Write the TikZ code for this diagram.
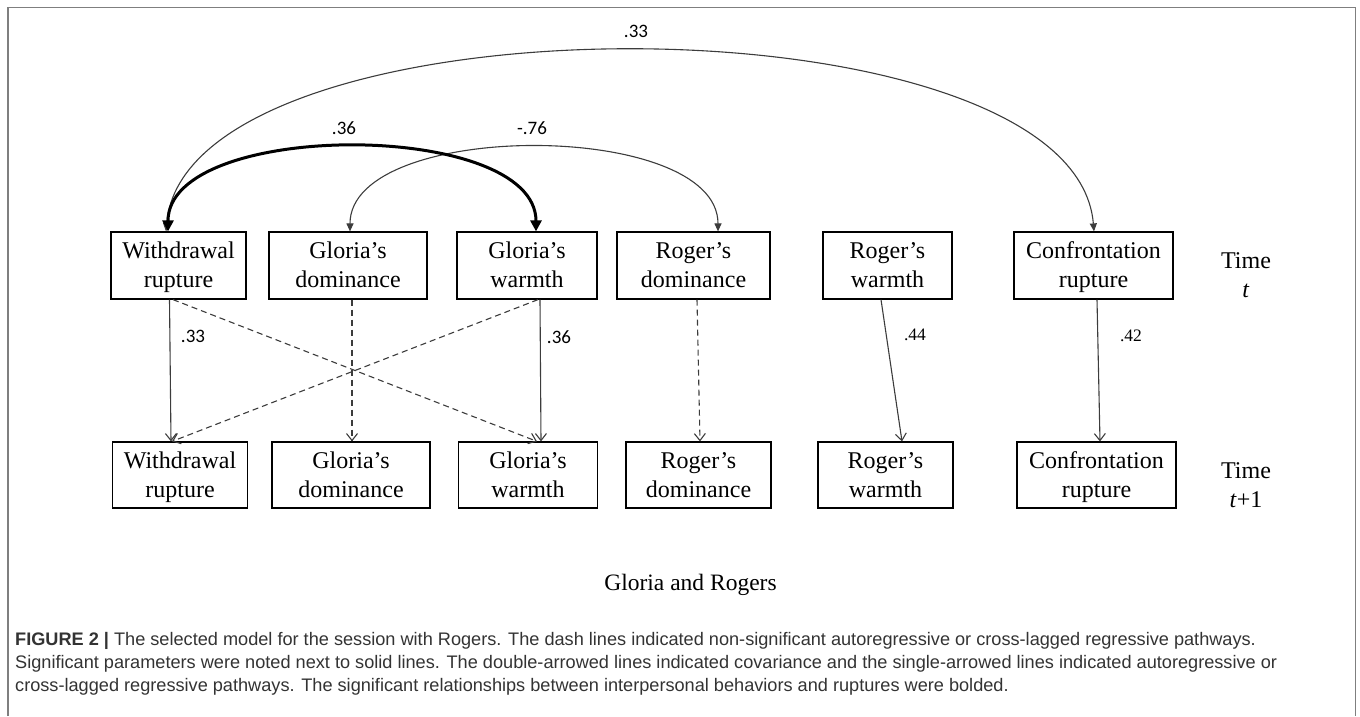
\documentclass[tikz,border=0pt]{standalone}
\usepackage{graphicx}
\usepackage{fontspec}
\setmainfont{Liberation Serif}
\newfontfamily\capfont{Liberation Sans}
\newfontfamily\lblfont{Carlito}
\usetikzlibrary{arrows.meta}
\definecolor{framegray}{HTML}{7F7F7F}
\definecolor{linegray}{HTML}{3C3C3C}
\definecolor{captext}{HTML}{333333}
\newlength\capwd
\newcommand\bxstrut{\rule[-6pt]{0pt}{27pt}}
\newcommand\twoln[2]{\bxstrut #1\\\bxstrut #2}
\begin{document}
\settowidth\capwd{\capfont\fontsize{16.5}{20}\selectfont Significant parameters were noted next to solid lines. The double-arrowed lines indicated covariance and the single-arrowed lines indicated autoregressive or}%
\pgfmathsetmacro\capsc{1262/\capwd}%
\begin{tikzpicture}[x=1pt,y=-1pt,
  box/.style={draw=black, line width=1.2pt, minimum height=67pt, inner sep=0pt, align=center, font=\fontsize{24}{29}\selectfont},
  reg/.style={draw=linegray, line width=1.1pt, -{Straight Barb[length=7pt,width=11pt]}},
  nsreg/.style={reg, dash pattern=on 6pt off 4pt},
  cov/.style={draw=linegray, line width=1.1pt, {Triangle[length=8pt,width=7pt]}-{Triangle[length=8pt,width=7pt]}},
  covbold/.style={draw=black, line width=3pt, {Triangle[length=11pt,width=11pt]}-{Triangle[length=11pt,width=11pt]}},
  sanslbl/.style={font=\lblfont\fontsize{19}{21}\selectfont, inner sep=0pt},
  seriflbl/.style={font=\fontsize{17.5}{20}\selectfont, inner sep=0pt},
  timelbl/.style={anchor=base, inner sep=0pt, font=\fontsize{24}{29}\selectfont},
  capline/.style={anchor=base west, inner sep=0pt, text=captext, font=\capfont\fontsize{16.5}{20}\selectfont}
]
\useasboundingbox (0,0) rectangle (1360,716);

% frame
\draw[framegray, line width=1.8pt] (8,716) -- (8,7.5) -- (1355.5,7.5) -- (1355.5,716);

% top row (time t)
\node[box, minimum width=135pt] (W1) at (178.5,265.5) {\twoln{Withdrawal}{rupture}};
\node[box, minimum width=158pt] (GD1) at (348,265.5) {\twoln{Gloria’s}{dominance}};
\node[box, minimum width=140pt] (GW1) at (527,265.5) {\twoln{Gloria’s}{warmth}};
\node[box, minimum width=153pt] (RD1) at (693.5,265.5) {\twoln{Roger’s}{dominance}};
\node[box, minimum width=129pt] (RW1) at (887.5,265.5) {\twoln{Roger’s}{warmth}};
\node[box, minimum width=159pt] (C1) at (1093.5,265.5) {\twoln{Confrontation}{rupture}};

% bottom row (time t+1)
\node[box, minimum width=135pt, minimum height=66pt] (W2) at (180,475) {\twoln{Withdrawal}{rupture}};
\node[box, minimum width=158pt, minimum height=66pt] (GD2) at (351,475) {\twoln{Gloria’s}{dominance}};
\node[box, minimum width=139pt, minimum height=66pt] (GW2) at (528,475) {\twoln{Gloria’s}{warmth}};
\node[box, minimum width=145pt, minimum height=66pt] (RD2) at (698.5,475) {\twoln{Roger’s}{dominance}};
\node[box, minimum width=135pt, minimum height=66pt] (RW2) at (885.5,475) {\twoln{Roger’s}{warmth}};
\node[box, minimum width=159pt, minimum height=66pt] (C2) at (1096.5,475) {\twoln{Confrontation}{rupture}};

% time labels
\node[timelbl] (T1a) at (1246,268) {Time};
\node[timelbl] (T1b) at (1246,297) {\textit{t}};
\node[timelbl] (T2a) at (1246,478) {Time};
\node[timelbl] (T2b) at (1246,507) {\textit{t}+1};

% autoregressive / cross-lagged paths
\draw[reg] ([xshift=-9pt]W1.south) -- ([xshift=-9pt]W2.north);
\draw[nsreg] ([xshift=4pt]GD1.south) -- ([xshift=1pt]GD2.north);
\draw[reg] ([xshift=13pt]GW1.south) -- ([xshift=13pt]GW2.north);
\draw[nsreg] ([xshift=3.5pt]RD1.south) -- ([xshift=1.5pt]RD2.north);
\draw[reg] ([xshift=-6.5pt]RW1.south) -- ([xshift=16.5pt]RW2.north);
\draw[reg] ([xshift=3.5pt]C1.south) -- ([xshift=3.5pt]C2.north);
\draw[nsreg] ([xshift=-5.5pt]W1.south) -- ([xshift=9pt]GW2.north);
\draw[nsreg] ([xshift=11pt]GW1.south) -- ([xshift=-8pt]W2.north);

% covariances
\draw[cov] ([xshift=-12.5pt]W1.north) .. controls +(20,-241) and +(-20,-241) .. ([xshift=0.5pt]C1.north);
\draw[cov] ([xshift=2pt]GD1.north) .. controls +(0,-112) and +(0,-112) .. ([xshift=24.5pt]RD1.north);
\draw[covbold] ([xshift=-10.5pt]W1.north) .. controls +(0,-112) and +(0,-112) .. ([xshift=9pt]GW1.north);

% parameter labels
\node[sanslbl] (L33top) at (636,31) {.33};
\node[sanslbl] (L36cov) at (344,128) {.36};
\node[sanslbl] (L76) at (532,128) {-.76};
\node[sanslbl] (L33) at (193,336) {.33};
\node[sanslbl] (L36) at (559,337) {.36};
\node[seriflbl] (L44) at (915,335) {.44};
\node[seriflbl] (L42) at (1131,336) {.42};

% subtitle
\node[anchor=base, inner sep=0pt, font=\fontsize{23.5}{28}\selectfont] (sub) at (690.5,590) {Gloria and Rogers};

% caption
\node[capline] (cap1) at (15,645) {\scalebox{\capsc}{\textbf{FIGURE 2 |} The selected model for the session with Rogers. The dash lines indicated non-significant autoregressive or cross-lagged regressive pathways.}};
\node[capline] (cap2) at (15,668) {\scalebox{\capsc}{Significant parameters were noted next to solid lines. The double-arrowed lines indicated covariance and the single-arrowed lines indicated autoregressive or}};
\node[capline] (cap3) at (15,691) {\scalebox{\capsc}{cross-lagged regressive pathways. The significant relationships between interpersonal behaviors and ruptures were bolded.}};
\end{tikzpicture}
\end{document}
